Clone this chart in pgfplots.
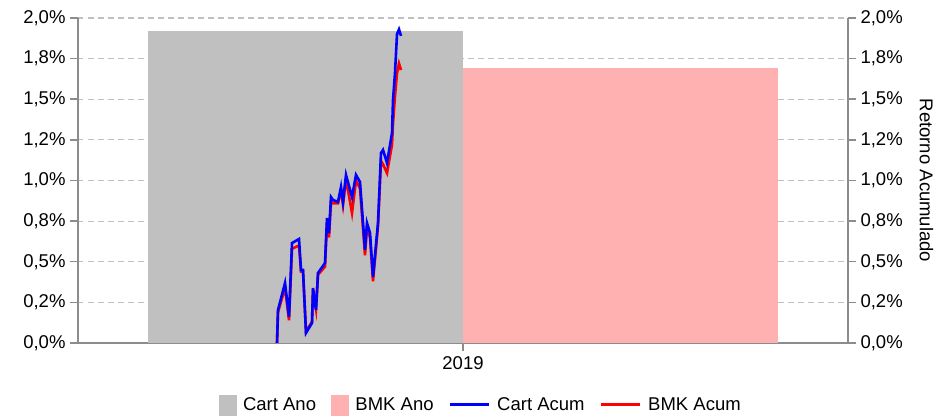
\documentclass[border=0pt]{standalone}
\usepackage{fontspec}
\setmainfont{Liberation Sans}
\usepackage{pgfplots}
\usepackage{pgfplotstable}
\pgfplotsset{compat=1.18}
\definecolor{cartgray}{HTML}{C0C0C0}
\definecolor{bmkpink}{HTML}{FFB0B0}
\definecolor{axgray}{HTML}{8C8C8C}
\definecolor{gridgray}{HTML}{C0C0C0}

\pgfplotstableread{
x cart bmk
199 0.000 0.000
200 0.203 0.190
207 0.369 0.340
211 0.160 0.140
214 0.615 0.580
221 0.640 0.600
223 0.449 0.440
225 0.449 0.440
228 0.062 0.070
234 0.123 0.130
235 0.338 0.330
238 0.203 0.210
240 0.431 0.420
247 0.492 0.470
249 0.769 0.740
251 0.677 0.650
253 0.898 0.870
255 0.880 0.860
260 0.868 0.860
263 0.960 0.940
265 0.868 0.850
268 1.034 1.010
274 0.898 0.800
278 1.034 1.000
282 0.991 0.950
287 0.572 0.540
289 0.738 0.710
292 0.677 0.650
295 0.406 0.380
300 0.738 0.720
303 1.169 1.120
305 1.188 1.100
309 1.108 1.046
314 1.292 1.220
315 1.495 1.350
317 1.662 1.520
319 1.900 1.660
321 1.930 1.720
323 1.890 1.680
}\acum

\pgfplotsset{
  myticks/.style={
    ytick={0,0.25,0.5,0.75,1,1.25,1.5,1.75,2},
    yticklabels={{0,0\%},{0,2\%},{0,5\%},{0,8\%},{1,0\%},{1,2\%},{1,5\%},{1,8\%},{2,0\%}},
    tick label style={font=\fontsize{18.5}{21}\selectfont},
    tick align=outside,
    major tick length=8pt,
    tick style={axgray, line width=1.5pt},
    axis line style={axgray, line width=1.5pt},
  }
}

\begin{document}
\begin{tikzpicture}
\path (-78pt,-71pt) rectangle (863pt,343pt);
\begin{axis}[
  myticks,
  scale only axis, width=770pt, height=325pt,
  xmin=-1.2222, xmax=1.2222, ymin=0, ymax=2,
  axis x line*=bottom, axis y line*=left,
  xtick={0}, xticklabels={2019},
  ymajorgrids, grid style={gridgray, line width=1.2pt, dash pattern=on 5.5pt off 4.5pt},
  ybar, bar width=1, bar shift=0pt,
  yticklabel style={xshift=-1pt},
  xticklabel style={yshift=-2pt},
]
\addplot[fill=cartgray, draw=none] coordinates {(-0.5,1.92)};
\addplot[fill=bmkpink, draw=none] coordinates {(0.5,1.692)};
\end{axis}
\begin{axis}[
  myticks,
  scale only axis, width=770pt, height=325pt,
  xmin=0, xmax=770, ymin=0, ymax=2,
  axis x line=none, axis y line*=right,
  yticklabel style={xshift=1pt},
  ylabel={Retorno Acumulado},
  ylabel shift=10pt,
  ylabel style={rotate=180, font=\fontsize{18.5}{21}\selectfont},
  legend style={draw=none, at={(0.523,-0.19)}, anchor=center,
    font=\fontsize{18.5}{21}\selectfont, legend columns=4,
    /tikz/every odd column/.append style={column sep=5pt},
    /tikz/every even column/.append style={column sep=13pt},
    legend cell align=left},
]
\addlegendimage{legend image code/.code={\fill[cartgray] (0pt,-10pt) rectangle (17pt,10pt);}}
\addlegendentry{Cart Ano}
\addlegendimage{legend image code/.code={\fill[bmkpink] (0pt,-10pt) rectangle (17pt,10pt);}}
\addlegendentry{BMK Ano}
\addlegendimage{legend image code/.code={\draw[blue, line width=2.6pt] (0pt,0pt) -- (39pt,0pt);}}
\addlegendentry{Cart Acum}
\addlegendimage{legend image code/.code={\draw[red, line width=2.6pt] (0pt,0pt) -- (39pt,0pt);}}
\addlegendentry{BMK Acum}
\addplot[red, line width=2.6pt, forget plot] table[x=x, y=bmk] {\acum};
\addplot[blue, line width=2.6pt, forget plot] table[x=x, y=cart] {\acum};
\end{axis}
\end{tikzpicture}
\end{document}
